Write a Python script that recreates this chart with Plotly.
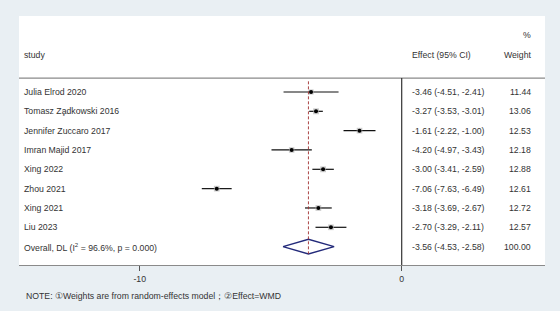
import plotly.graph_objects as go

studies = ["Julia Elrod 2020", "Tomasz Za̧dkowski 2016", "Jennifer Zuccaro 2017",
           "Imran Majid 2017", "Xing 2022", "Zhou 2021", "Xing 2021", "Liu 2023"]
effect = [-3.46, -3.27, -1.61, -4.20, -3.00, -7.06, -3.18, -2.70]
lower = [-4.51, -3.53, -2.22, -4.97, -3.41, -7.63, -3.69, -3.29]
upper = [-2.41, -3.01, -1.00, -3.43, -2.59, -6.49, -2.67, -2.11]
weight = [11.44, 13.06, 12.53, 12.18, 12.88, 12.61, 12.72, 12.57]
overall_label = "Overall, DL (I<sup>2</sup> = 96.6%, p = 0.000)"
overall = (-3.56, -4.53, -2.58, 100.00)
tick_vals = [-10, 0]
tick_text = ["-10", "0"]
note = "NOTE: ①Weights are from random-effects model；②Effect=WMD"

FONT = "Liberation Sans, Arial, sans-serif"
TXT = "#333333"
FS = 8.7

rows = list(range(len(studies)))
orow = len(studies)

fig = go.Figure()

# CI lines with weight boxes
fig.add_trace(go.Scatter(
    x=effect, y=rows, mode="markers",
    marker=dict(symbol="square", size=[w * 0.45 for w in weight], color="#b5b5b5",
                line=dict(width=0)),
    error_x=dict(type="data", symmetric=False,
                 array=[u - e for u, e in zip(upper, effect)],
                 arrayminus=[e - l for e, l in zip(effect, lower)],
                 width=0, thickness=1.2, color="#111111"),
    hoverinfo="skip", showlegend=False))
fig.add_trace(go.Scatter(
    x=effect, y=rows, mode="markers",
    marker=dict(symbol="circle", size=4, color="black"),
    hoverinfo="skip", showlegend=False))

# diamond
oe, ol, ou, ow = overall
h = 0.38
fig.add_trace(go.Scatter(
    x=[ol, oe, ou, oe, ol], y=[orow, orow - h, orow, orow + h, orow],
    mode="lines", line=dict(color="#232a7a", width=1.3),
    hoverinfo="skip", showlegend=False))

W, H = 560, 311
L, R, T, B = 19, 15, 16, 46
pw = W - L - R

def px(x):
    return (x - L) / pw

ann = []
def add(text, x, y, anchor="left", yref="y"):
    ann.append(dict(text=text, x=x, y=y, xref="paper", yref=yref, xanchor=anchor,
                    yanchor="middle", showarrow=False,
                    font=dict(family=FONT, size=FS, color=TXT)))

header_y = -1.91
add("study", px(22), header_y)
add("Effect (95% CI)", px(410), header_y)
add("Weight", px(532.5), header_y, "right")
add("%", px(532.5), -2.95, "right")

for i, s in enumerate(studies):
    add(s, px(22), i)
    add(f"{effect[i]:.2f} ({lower[i]:.2f}, {upper[i]:.2f})", px(410), i)
    add(f"{weight[i]:.2f}", px(532.5), i, "right")
add(overall_label, px(22), orow)
add(f"{oe:.2f} ({ol:.2f}, {ou:.2f})", px(410), orow)
add(f"{ow:.2f}", px(532.5), orow, "right")
add(note, px(24), (265 - 296) / (H - T - B), "left", "paper")

shapes = [
    dict(type="line", xref="paper", yref="y", x0=0, x1=1, y0=-0.72, y1=-0.72,
         line=dict(color="#8a8a8a", width=1.2)),
    dict(type="line", xref="x", yref="y", x0=0, x1=0, y0=-0.72, y1=8.95,
         line=dict(color="#333333", width=1.2)),
    dict(type="line", xref="x", yref="y", x0=oe, x1=oe, y0=-0.55, y1=orow + h,
         line=dict(color="#a03030", width=0.9, dash="3px,2px")),
]

fig.update_layout(
    width=W, height=H, margin=dict(l=L, r=R, t=T, b=B),
    paper_bgcolor="#e9eff3", plot_bgcolor="white",
    annotations=ann, shapes=shapes,
    xaxis=dict(range=[(L - 401.7) / 26.2, (W - R - 401.7) / 26.2],
               tickvals=tick_vals, ticktext=tick_text, ticks="outside",
               ticklen=5, tickcolor="#555555", showline=True, linecolor="#8a8a8a",
               linewidth=1.2, showgrid=False, zeroline=False,
               tickfont=dict(family=FONT, size=FS, color=TXT)),
    yaxis=dict(range=[8.95, -3.93], showgrid=False, zeroline=False,
               showticklabels=False, showline=False),
)

fig.write_html("out.html", config={"displayModeBar": False},
               post_script="document.body.style.margin='0';document.body.style.background='#e9eff3';")
